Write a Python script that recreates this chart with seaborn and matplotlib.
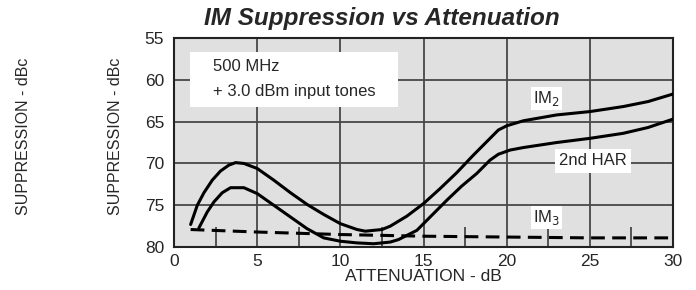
import numpy as np
import pandas as pd
import matplotlib
matplotlib.use("Agg")
import matplotlib.pyplot as plt
import seaborn as sns
from matplotlib.patches import Rectangle

# ---- data ----
im2_x = [1.0, 1.4, 1.8, 2.3, 2.8, 3.3, 3.7, 4.2, 5.0, 6.0, 7.0, 8.0, 9.0, 10.0, 11.0, 11.5,
         12.5, 13.0, 14.0, 15.0, 16.0, 17.0, 18.0, 19.0, 19.5, 20.0, 21.0, 23.0, 25.0, 27.0, 28.5, 30.0]
im2_y = [77.3, 75.0, 73.5, 72.0, 70.9, 70.2, 69.9, 70.0, 70.6, 72.0, 73.5, 74.9, 76.1, 77.2, 77.9, 78.1,
         77.9, 77.5, 76.3, 74.8, 73.0, 71.1, 69.0, 67.0, 66.0, 65.5, 64.9, 64.2, 63.8, 63.2, 62.6, 61.7]

har_x = [1.5, 2.0, 2.4, 2.9, 3.4, 4.2, 5.0, 6.0, 7.0, 8.0, 9.0, 10.0, 11.0, 12.0, 13.0, 13.5, 14.0,
         14.6, 15.5, 16.4, 17.3, 18.2, 19.0, 19.5, 20.2, 21.0, 23.0, 25.0, 27.0, 28.5, 30.0]
har_y = [77.7, 75.8, 74.6, 73.5, 72.9, 72.9, 73.6, 75.0, 76.4, 77.8, 78.9, 79.3, 79.5, 79.6, 79.4, 79.1, 78.6,
         78.0, 76.2, 74.4, 72.7, 71.2, 69.6, 68.9, 68.4, 68.1, 67.5, 67.0, 66.4, 65.7, 64.7]

im3_x = [1.0, 5.0, 10.0, 15.0, 20.0, 25.0, 30.0]
im3_y = [77.9, 78.2, 78.5, 78.7, 78.8, 78.9, 78.9]

x_ticks = [0, 5, 10, 15, 20, 25, 30]
y_ticks = [55, 60, 65, 70, 75, 80]
minor_x = [2.5, 7.5, 12.5, 17.5, 22.5, 27.5]

title = "IM Suppression vs Attenuation"
xlabel = "ATTENUATION - dB"
ylabel = "SUPPRESSION - dBc"
note_lines = ["500 MHz", "+ 3.0 dBm input tones"]

df = pd.concat([
    pd.DataFrame({"x": im2_x, "y": im2_y, "series": "IM2"}),
    pd.DataFrame({"x": har_x, "y": har_y, "series": "2nd HAR"}),
    pd.DataFrame({"x": im3_x, "y": im3_y, "series": "IM3"}),
])

sns.set_style("ticks")
plt.rcParams["font.family"] = ["Liberation Sans", "DejaVu Sans"]

fig = plt.figure(figsize=(6.96, 2.90), dpi=100)
ax = fig.add_axes([0.25, 0.148, 0.717, 0.721])
ax.set_facecolor("#e0e0e0")

for name in ["IM2", "2nd HAR"]:
    sns.lineplot(data=df[df.series == name], x="x", y="y", ax=ax, color="black",
                 linewidth=2.2, sort=False, estimator=None, legend=False, zorder=3)
sns.lineplot(data=df[df.series == "IM3"], x="x", y="y", ax=ax, color="black",
             linewidth=2.2, sort=False, estimator=None, legend=False, zorder=3)
ax.lines[-1].set_dashes([4.5, 2.4])

ax.set_xlim(0, 30)
ax.set_ylim(80, 55)
ax.set_xticks(x_ticks)
ax.set_yticks(y_ticks)
ax.set_xticks(minor_x, minor=True)
ax.grid(True, which="major", color="#484848", linewidth=1.3, zorder=1)
ax.set_axisbelow(True)
ax.tick_params(axis="both", which="major", length=0, labelsize=12.5)
ax.tick_params(axis="y", which="major", pad=7)
ax.tick_params(axis="x", which="major", pad=5)
ax.tick_params(axis="x", which="minor", direction="in", length=14.5, width=1.3, color="#484848")
for s in ax.spines.values():
    s.set_color("#222222")
    s.set_linewidth(1.5)

ax.set_xlabel(xlabel, fontsize=12.5, labelpad=0)
ax.set_ylabel(ylabel, fontsize=11.5, va="center")
ax.yaxis.set_label_coords(-0.118, 0.53)
fig.text(0.034, 0.531, ylabel, rotation=90, fontsize=11.5, ha="center", va="center")
fig.text(0.548, 0.937, title, fontsize=17.5, fontweight="bold", fontstyle="italic",
         ha="center", va="center")

# note box
ax.add_patch(Rectangle((0.96, 56.64), 12.5, 6.56, facecolor="white", edgecolor="none", zorder=2))
ax.text(2.35, 58.45, note_lines[0], fontsize=12, va="center", ha="left", zorder=4)
ax.text(2.35, 61.45, note_lines[1], fontsize=12, va="center", ha="left", zorder=4)

bbox = dict(facecolor="white", edgecolor="none", pad=1.5)
ax.text(22.4, 62.2, r"IM$_2$", fontsize=12, ha="center", va="center", bbox=bbox, zorder=4)
ax.text(25.2, 69.7, "2nd HAR", fontsize=12, ha="center", va="center",
        bbox=dict(facecolor="white", edgecolor="none", pad=3), zorder=4)
ax.text(22.4, 76.5, r"IM$_3$", fontsize=12, ha="center", va="center", bbox=bbox, zorder=4)

fig.savefig("out.png", dpi=100)
